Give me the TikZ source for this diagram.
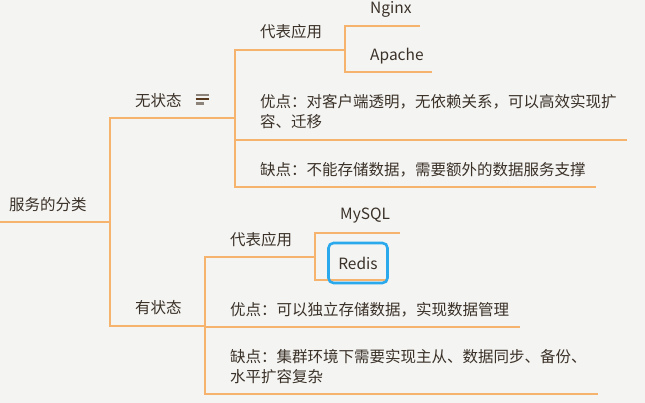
\documentclass[tikz,border=0pt]{standalone}
\usepackage{fontspec}
\setmainfont{Noto Sans CJK SC}
\definecolor{bg}{HTML}{F4F4F2}
\definecolor{org}{HTML}{F5B36E}
\definecolor{txt}{HTML}{3A3128}
\definecolor{selb}{HTML}{2AA9EC}
\definecolor{icg}{HTML}{8C837A}
\definecolor{icd}{HTML}{5A3A1E}
\begin{document}
\begin{tikzpicture}[x=1pt,y=-1pt,
  lbl/.style={anchor=west,inner sep=0pt,text=txt,align=left,font=\fontsize{15.5}{19.5}\selectfont},
  br/.style={draw=org,line width=1.8pt,line cap=rect},
  selbox/.style={draw=selb,line width=2.6pt,rounded corners=5pt,minimum width=59pt,minimum height=40pt,inner sep=0pt,text=txt,font=\fontsize{15.5}{19.5}\selectfont},
  icon/.style={line width=2.4pt}]
\fill[bg] (0,0) rectangle (645,403);
\useasboundingbox (0,0) rectangle (645,403);

% joints
\coordinate (r0) at (0,222);
\coordinate (r1) at (110,222);
\coordinate (j0) at (110,118);
\coordinate (j1) at (110,326);
\coordinate (k0) at (235,118);
\coordinate (k1) at (205,326);
\coordinate (ka) at (235,50);
\coordinate (kb) at (235,140);
\coordinate (kc) at (235,187);
\coordinate (kae) at (345,50);
\coordinate (kbe) at (626,140);
\coordinate (kce) at (595,187);
\coordinate (na) at (345,26);
\coordinate (nb) at (345,72);
\coordinate (nae) at (419,26);
\coordinate (nbe) at (431,72);
\coordinate (la) at (205,257);
\coordinate (lb) at (205,327);
\coordinate (lc) at (205,394);
\coordinate (lae) at (315,257);
\coordinate (lbe) at (519,327);
\coordinate (lce) at (597,394);
\coordinate (ma) at (315,233);
\coordinate (mb) at (315,280);
\coordinate (mae) at (399,233);
\coordinate (mbe) at (386,280);

% connectors
\draw[br] (r0) -- (r1);
\draw[br] (j0) -- (j1);
\draw[br] (j0) -- (k0);
\draw[br] (j1) -- (k1);
\draw[br] (ka) -- (kc);
\draw[br] (ka) -- (kae);
\draw[br] (kb) -- (kbe);
\draw[br] (kc) -- (kce);
\draw[br] (na) -- (nb);
\draw[br] (na) -- (nae);
\draw[br] (nb) -- (nbe);
\draw[br] (la) -- (lc);
\draw[br] (la) -- (lae);
\draw[br] (lb) -- (lbe);
\draw[br] (lc) -- (lce);
\draw[br] (ma) -- (mb);
\draw[br] (ma) -- (mae);
\draw[br] (mb) -- (mbe);

% texts
\node[lbl] (root) at (9,205) {服务的分类};
\node[lbl] (s0) at (135,100.5) {无状态};
\node[lbl] (s1) at (135,308) {有状态};
\node[lbl] (a0) at (260,31.5) {代表应用};
\node[lbl] (n1) at (370,9) {Nginx};
\node[lbl] (n2) at (370,56.5) {Apache};
\node[lbl] (p0) at (260,111.75) {优点：对客户端透明，无依赖关系，可以高效实现扩\\容、迁移};
\node[lbl] (c0) at (260,170) {缺点：不能存储数据，需要额外的数据服务支撑};
\node[lbl] (a1) at (230,239.5) {代表应用};
\node[lbl] (m1) at (340,216) {MySQL};
\node[selbox] (m2) at (358,263) {Redis};
\node[lbl] (p1) at (230,310) {优点：可以独立存储数据，实现数据管理};
\node[lbl] (c1) at (230,366.75) {缺点：集群环境下需要实现主从、数据同步、备份、\\水平扩容复杂};

% note icon
\draw[icon,icg] (195.5,95) -- (209,95);
\draw[icon,icd] (195.5,99.3) -- (209,99.3);
\draw[icon,icg] (195.5,103.7) -- (203.5,103.7);
\end{tikzpicture}
\end{document}
